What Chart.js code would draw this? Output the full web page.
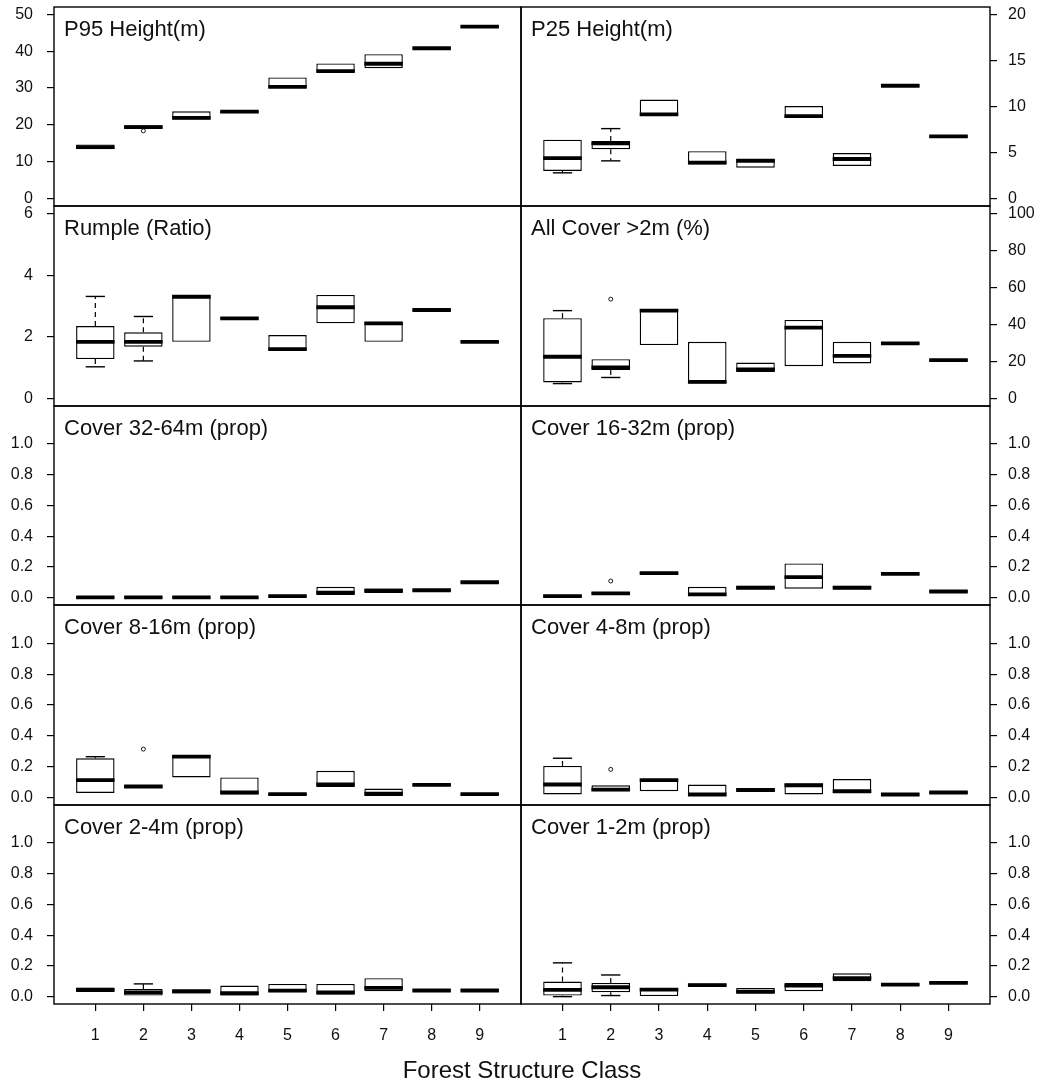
<!DOCTYPE html>
<html>
<head>
<meta charset="utf-8">
<title>Forest structure metrics by class</title>
<script src="https://cdn.jsdelivr.net/npm/chart.js@4.4.1/dist/chart.umd.min.js"></script>
<style>
  html, body { margin: 0; padding: 0; background: #fff; }
  body { position: relative; width: 1040px; height: 1084px; overflow: hidden;
         font-family: "Liberation Sans", Arial, sans-serif; color: #000; }
  canvas.panel { position: absolute; }
  .ptitle { position: absolute; font-size: 22px; line-height: 1; white-space: nowrap; color: #111; }
  #xtitle { position: absolute; font-size: 24px; line-height: 1; white-space: nowrap;
            left: 0; width: 1044px; text-align: center; top: 1058px; color: #111; }
</style>
</head>
<body>
<div id="xtitle">Forest Structure Class</div>
<script>
// Forest structure classes on the x axis
const classes = [1, 2, 3, 4, 5, 6, 7, 8, 9];

// Box summaries per class: [lower whisker, Q1, median, Q3, upper whisker]
const p95Height = [
  [13.4, 13.4, 14.0, 14.7, 14.7], [19.0, 19.0, 19.4, 19.9, 19.9], [21.5, 21.5, 21.9, 23.7, 23.7],
  [23.2, 23.2, 23.6, 23.9, 23.9], [30.0, 30.0, 30.3, 32.9, 32.9], [34.2, 34.2, 34.6, 36.7, 36.7],
  [35.4, 35.4, 36.6, 39.2, 39.2], [40.5, 40.5, 40.8, 41.1, 41.1], [46.3, 46.3, 46.7, 47.0, 47.0]
];
const p25Height = [
  [2.8, 3.0, 4.4, 6.4, 6.4], [4.1, 5.35, 6.0, 6.25, 7.6], [9.0, 9.0, 9.15, 10.75, 10.75],
  [3.7, 3.7, 3.9, 5.15, 5.15], [3.35, 3.35, 4.1, 4.35, 4.35], [8.75, 8.75, 8.95, 10.05, 10.05],
  [3.55, 3.55, 4.3, 4.95, 4.95], [12.15, 12.15, 12.25, 12.35, 12.35], [6.65, 6.65, 6.75, 6.85, 6.85]
];
const rumple = [
  [1.03, 1.28, 1.84, 2.35, 3.31], [1.22, 1.68, 1.84, 2.15, 2.66], [1.84, 1.84, 3.3, 3.36, 3.36],
  [2.57, 2.57, 2.6, 2.63, 2.63], [1.55, 1.55, 1.6, 2.06, 2.06], [2.44, 2.44, 2.96, 3.36, 3.36],
  [1.84, 1.84, 2.44, 2.49, 2.49], [2.84, 2.84, 2.87, 2.9, 2.9], [1.81, 1.81, 1.84, 1.87, 1.87]
];
const allCover = [
  [8.1, 8.7, 22.6, 43.4, 47.5], [11.4, 15.4, 16.8, 21.3, 21.3], [28.9, 28.9, 47.5, 48.3, 48.3],
  [8.1, 8.1, 9.0, 30.7, 30.7], [14.4, 14.4, 15.7, 19.5, 19.5], [17.5, 17.5, 38.3, 42.5, 42.5],
  [19.0, 19.0, 23.1, 30.7, 30.7], [29.4, 29.4, 29.8, 30.2, 30.2], [20.4, 20.4, 20.8, 21.2, 21.2]
];
const cover32to64 = [
  [0, 0, 0.002, 0.005, 0.005], [0, 0, 0.002, 0.005, 0.005], [0, 0, 0.002, 0.005, 0.005],
  [0, 0, 0.002, 0.005, 0.005], [0.006, 0.006, 0.01, 0.016, 0.016], [0.017, 0.017, 0.032, 0.071, 0.071],
  [0.03, 0.03, 0.045, 0.06, 0.06], [0.04, 0.04, 0.048, 0.055, 0.055], [0.094, 0.094, 0.1, 0.107, 0.107]
];
const cover16to32 = [
  [0.003, 0.003, 0.01, 0.018, 0.018], [0.02, 0.02, 0.028, 0.036, 0.036], [0.147, 0.147, 0.16, 0.168, 0.168],
  [0.01, 0.01, 0.021, 0.071, 0.071], [0.052, 0.052, 0.065, 0.078, 0.078], [0.058, 0.058, 0.134, 0.223, 0.223],
  [0.052, 0.052, 0.065, 0.078, 0.078], [0.148, 0.148, 0.155, 0.16, 0.16], [0.033, 0.033, 0.04, 0.045, 0.045]
];
const cover8to16 = [
  [0.03, 0.03, 0.113, 0.255, 0.265], [0.062, 0.062, 0.072, 0.082, 0.082], [0.131, 0.131, 0.265, 0.276, 0.276],
  [0.02, 0.02, 0.033, 0.131, 0.131], [0.012, 0.012, 0.022, 0.03, 0.03], [0.069, 0.069, 0.085, 0.174, 0.174],
  [0.011, 0.011, 0.026, 0.059, 0.059], [0.075, 0.075, 0.082, 0.088, 0.088], [0.015, 0.015, 0.022, 0.028, 0.028]
];
const cover4to8 = [
  [0.02, 0.02, 0.085, 0.205, 0.255], [0.041, 0.041, 0.052, 0.08, 0.08], [0.041, 0.041, 0.113, 0.12, 0.12],
  [0.01, 0.01, 0.02, 0.085, 0.085], [0.036, 0.036, 0.05, 0.062, 0.062], [0.02, 0.02, 0.08, 0.091, 0.091],
  [0.03, 0.03, 0.041, 0.12, 0.12], [0.013, 0.013, 0.02, 0.026, 0.026], [0.027, 0.027, 0.033, 0.04, 0.04]
];
const cover2to4 = [
  [0.03, 0.03, 0.045, 0.058, 0.058], [0.007, 0.007, 0.028, 0.05, 0.083], [0.02, 0.02, 0.035, 0.044, 0.044],
  [0.007, 0.007, 0.022, 0.072, 0.072], [0.028, 0.028, 0.039, 0.083, 0.083], [0.013, 0.013, 0.028, 0.083, 0.083],
  [0.035, 0.035, 0.057, 0.12, 0.12], [0.035, 0.035, 0.04, 0.045, 0.045], [0.035, 0.035, 0.04, 0.045, 0.045]
];
const cover1to2 = [
  [0.0, 0.007, 0.044, 0.098, 0.22], [0.007, 0.028, 0.061, 0.089, 0.141], [0.0, 0.0, 0.046, 0.057, 0.057],
  [0.065, 0.065, 0.075, 0.085, 0.085], [0.018, 0.018, 0.033, 0.057, 0.057], [0.035, 0.035, 0.072, 0.089, 0.089],
  [0.1, 0.1, 0.12, 0.152, 0.152], [0.073, 0.073, 0.078, 0.083, 0.083], [0.085, 0.085, 0.09, 0.095, 0.095]
];

// Outlying observations: [class, value]
const p95Outliers = [[2, 18.4]];
const allCoverOutliers = [[2, 53.7]];
const cover16to32Outliers = [[2, 0.108]];
const cover8to16Outliers = [[2, 0.314]];
const cover4to8Outliers = [[2, 0.183]];

// Tick labels per panel type
const p95Ticks = [0, 10, 20, 30, 40, 50];
const p25Ticks = [0, 5, 10, 15, 20];
const rumpleTicks = [0, 2, 4, 6];
const coverPctTicks = [0, 20, 40, 60, 80, 100];
const propTicks = [0.0, 0.2, 0.4, 0.6, 0.8, 1.0];

// Panel order: left to right, top to bottom
const panelTitles = ['P95 Height(m)', 'P25 Height(m)', 'Rumple (Ratio)', 'All Cover >2m (%)',
  'Cover 32-64m (prop)', 'Cover 16-32m (prop)', 'Cover 8-16m (prop)', 'Cover 4-8m (prop)',
  'Cover 2-4m (prop)', 'Cover 1-2m (prop)'];
const panelStats = [p95Height, p25Height, rumple, allCover, cover32to64, cover16to32,
  cover8to16, cover4to8, cover2to4, cover1to2];
const panelOutliers = [p95Outliers, [], [], allCoverOutliers, [], cover16to32Outliers,
  cover8to16Outliers, cover4to8Outliers, [], []];
const panelTicks = [p95Ticks, p25Ticks, rumpleTicks, coverPctTicks, propTicks, propTicks,
  propTicks, propTicks, propTicks, propTicks];
const panelLimits = [[0, 50], [0, 20], [0, 6], [0, 100], [0, 1.2], [0, 1.2],
  [0, 1.2], [0, 1.2], [0, 1.2], [0, 1.2]];
const panelDecimals = [0, 0, 0, 0, 1, 1, 1, 1, 1, 1];

// ---- page geometry ----
const colEdges = [[54, 521], [521, 990]];
const rowEdges = [7, 206, 406, 605, 805, 1004];
const PAD_V = 10;
const X_AXIS_H = 60;
const FONT = '"Liberation Sans", Arial, sans-serif';

Chart.defaults.font.family = FONT;
Chart.defaults.color = '#000';

// extend limits by 4% on each side
function padRange(lo, hi) { const d = (hi - lo) * 0.04; return [lo - d, hi + d]; }
const xRange = padRange(0.5, 9.5);

function boxData(stats) { return stats.map((s, i) => ({ x: classes[i], y: [s[1], s[3]] })); }
function medianData(stats) { return stats.map((s, i) => ({ x: classes[i], y: s[2] })); }
function whiskerData(stats) {
  const out = [];
  stats.forEach((s, i) => {
    const x = classes[i];
    if (s[4] > s[3]) out.push({ x, y: s[3] }, { x, y: s[4] }, { x, y: null });
    if (s[0] < s[1]) out.push({ x, y: s[1] }, { x, y: s[0] }, { x, y: null });
  });
  return out;
}
function stapleData(stats) {
  const out = [];
  stats.forEach((s, i) => {
    if (s[4] > s[3]) out.push({ x: classes[i], y: s[4] });
    if (s[0] < s[1]) out.push({ x: classes[i], y: s[0] });
  });
  return out;
}
function outlierData(list) { return list.map(o => ({ x: o[0], y: o[1] })); }

// half-width of a mark measured in x-axis units, converted by the scale
const halfWidth = (units) => (c) => {
  const s = c.chart.scales.x;
  return Math.abs(s.getPixelForValue(1 + units) - s.getPixelForValue(1));
};

const framePlugin = {
  id: 'frame',
  afterDraw(chart) {
    const a = chart.chartArea, ctx = chart.ctx;
    ctx.save();
    ctx.strokeStyle = '#000';
    ctx.lineWidth = 1.4;
    ctx.strokeRect(a.left, a.top, a.right - a.left, a.bottom - a.top);
    ctx.restore();
  }
};

function makePanel(i) {
  const row = Math.floor(i / 2), col = i % 2;
  const isBottom = row === 4;
  const top = rowEdges[row], bottom = rowEdges[row + 1];
  const [left, right] = colEdges[col];

  const canvas = document.createElement('canvas');
  canvas.className = 'panel';
  let cLeft, cWidth, padL, padR, yWidth;
  if (col === 0) { cLeft = 0; padL = 0; padR = 3; yWidth = left; cWidth = right + padR; }
  else { cLeft = left - 2; padL = 2; padR = 0; yWidth = 1040 - right; cWidth = 1040 - cLeft; }
  const cTop = top - PAD_V;
  const cHeight = (bottom - top) + PAD_V + (isBottom ? X_AXIS_H : PAD_V);
  canvas.width = cWidth; canvas.height = cHeight;
  canvas.style.left = cLeft + 'px'; canvas.style.top = cTop + 'px';
  canvas.style.width = cWidth + 'px'; canvas.style.height = cHeight + 'px';
  document.body.insertBefore(canvas, document.getElementById('xtitle'));

  const title = document.createElement('div');
  title.className = 'ptitle';
  title.textContent = panelTitles[i];
  title.style.left = (left + 10) + 'px';
  title.style.top = (top + 11) + 'px';
  document.body.appendChild(title);

  const stats = panelStats[i];
  const yr = padRange(panelLimits[i][0], panelLimits[i][1]);
  const ticks = panelTicks[i];
  const dec = panelDecimals[i];

  new Chart(canvas, {
    type: 'bar',
    data: {
      datasets: [
        {
          type: 'bar', data: boxData(stats), order: 4,
          backgroundColor: '#fff', borderColor: '#000', borderWidth: 1.4,
          borderSkipped: false, barPercentage: 0.8, categoryPercentage: 1.0
        },
        {
          type: 'line', data: whiskerData(stats), order: 3,
          borderColor: '#000', borderWidth: 1.2, borderDash: [5, 4],
          pointRadius: 0, spanGaps: false, fill: false, tension: 0
        },
        {
          type: 'scatter', data: stapleData(stats), order: 2,
          pointStyle: 'line', pointRadius: halfWidth(0.2),
          pointBorderColor: '#000', pointBorderWidth: 1.4, pointBackgroundColor: '#000'
        },
        {
          type: 'scatter', data: outlierData(panelOutliers[i]), order: 1,
          pointStyle: 'circle', pointRadius: 2,
          pointBorderColor: '#000', pointBorderWidth: 0.9, pointBackgroundColor: 'rgba(0,0,0,0)'
        },
        {
          type: 'scatter', data: medianData(stats), order: 0,
          pointStyle: 'line', pointRadius: halfWidth(0.4),
          pointBorderColor: '#000', pointBorderWidth: 3.8, pointBackgroundColor: '#000'
        }
      ]
    },
    options: {
      responsive: false,
      devicePixelRatio: 1,
      animation: false,
      events: [],
      layout: {
        autoPadding: false,
        padding: { left: padL, right: padR, top: PAD_V, bottom: isBottom ? 0 : PAD_V }
      },
      plugins: { legend: { display: false }, tooltip: { enabled: false } },
      scales: {
        x: {
          type: 'linear', min: xRange[0], max: xRange[1], offset: false,
          display: isBottom,
          grid: { drawOnChartArea: false, drawTicks: true, tickLength: 7, color: '#000', lineWidth: 1.2, offset: false },
          border: { display: false },
          ticks: { autoSkip: false, padding: 15, font: { size: 16, family: FONT }, color: '#111', maxRotation: 0,
                   callback: (v) => String(v) },
          afterBuildTicks: (s) => { s.ticks = classes.map(v => ({ value: v })); },
          afterFit: (s) => {
            if (isBottom) s.height = X_AXIS_H;
            s.paddingLeft = 0; s.paddingRight = 0;
          }
        },
        y: {
          type: 'linear', position: col === 0 ? 'left' : 'right',
          min: yr[0], max: yr[1], beginAtZero: false,
          grid: { drawOnChartArea: false, drawTicks: true, tickLength: 7, color: '#000', lineWidth: 1.2 },
          border: { display: false },
          ticks: { autoSkip: false, padding: col === 0 ? 14 : 11, font: { size: 16, family: FONT }, color: '#111',
                   callback: (v) => Number(v).toFixed(dec) },
          afterBuildTicks: (s) => { s.ticks = ticks.map(v => ({ value: v })); },
          afterFit: (s) => { s.width = yWidth; s.paddingTop = 0; s.paddingBottom = 0; }
        }
      }
    },
    plugins: [framePlugin]
  });
}

for (let i = 0; i < panelStats.length; i++) makePanel(i);
</script>
</body>
</html>
